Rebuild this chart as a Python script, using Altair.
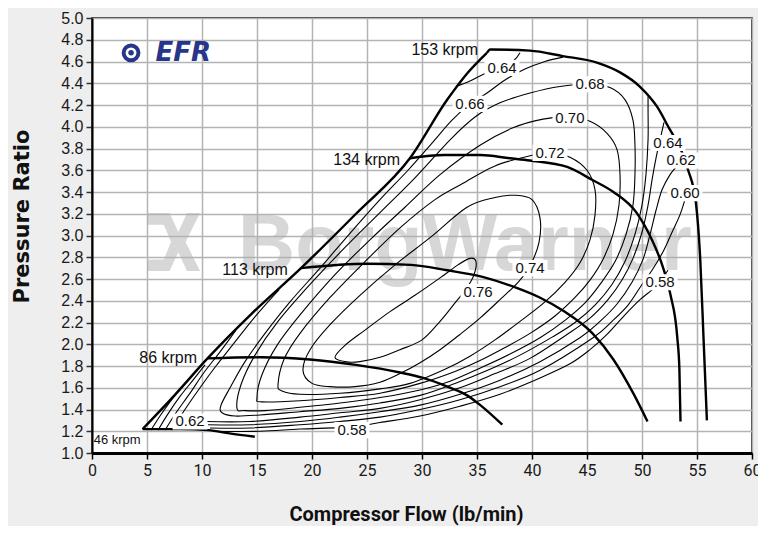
import altair as alt
import pandas as pd

# ---------------- data ----------------
x_ticks = [0, 5, 10, 15, 20, 25, 30, 35, 40, 45, 50, 55, 60]
y_ticks = [1.0, 1.2, 1.4, 1.6, 1.8, 2.0, 2.2, 2.4, 2.6, 2.8, 3.0,
           3.2, 3.4, 3.6, 3.8, 4.0, 4.2, 4.4, 4.6, 4.8, 5.0]

surge_x = [4.6, 7.5, 10.5, 14.5, 19.0, 24.0, 28.9, 32.3, 34.1, 35.9]
surge_y = [1.22, 1.53, 1.87, 2.28, 2.70, 3.20, 3.71, 4.25, 4.49, 4.68]

spd46_x = [4.6, 8.0, 10.6, 12.5, 14.8]
spd46_y = [1.22, 1.22, 1.21, 1.18, 1.15]
spd86_x = [10.5, 15.3, 19.8, 24.0, 28.0, 30.1, 32.3, 34.1, 35.3, 37.3]
spd86_y = [1.87, 1.88, 1.86, 1.81, 1.74, 1.69, 1.61, 1.53, 1.44, 1.26]
spd113_x = [19.0, 25.0, 29.0, 32.3, 35.5, 38.3, 40.7, 42.8, 45.5, 47.4, 49.2, 50.5]
spd113_y = [2.70, 2.74, 2.73, 2.68, 2.62, 2.53, 2.43, 2.31, 2.10, 1.86, 1.55, 1.29]
spd134_x = [28.9, 32.0, 35.3, 38.0, 39.8, 43.2, 45.5, 47.4, 49.5, 50.9, 51.9, 52.6, 53.2, 53.4, 53.5]
spd134_y = [3.71, 3.74, 3.74, 3.71, 3.69, 3.63, 3.51, 3.40, 3.21, 2.96, 2.71, 2.45, 2.07, 1.77, 1.29]
spd153_x = [35.9, 36.2, 39.8, 42.8, 45.9, 48.0, 49.8, 51.4, 52.5, 53.5, 54.2, 54.9, 55.3, 55.6, 55.9]
spd153_y = [4.68, 4.71, 4.70, 4.65, 4.59, 4.50, 4.37, 4.18, 3.98, 3.80, 3.60, 3.30, 2.77, 2.04, 1.30]

# closed efficiency islands
c076_x = [22.09, 23.0, 24.82, 27.09, 29.36, 31.64, 33.27, 34.36, 34.91, 34.73, 34.09, 33.0, 31.64, 30.0, 28.0, 26.18, 24.36, 23.0]
c076_y = [1.88, 1.99, 2.13, 2.30, 2.45, 2.61, 2.73, 2.79, 2.76, 2.64, 2.52, 2.38, 2.21, 2.04, 1.95, 1.88, 1.84, 1.84]
c074_x = [19.18, 19.82, 21.64, 24.36, 27.55, 30.73, 34.09, 36.64, 38.45, 40.0, 40.73, 40.64, 39.82, 38.73, 37.09, 35.27, 33.45, 31.64, 29.82, 28.0, 26.18, 23.91, 21.64, 20.0]
c074_y = [1.76, 1.95, 2.18, 2.45, 2.73, 2.98, 3.26, 3.35, 3.37, 3.33, 3.16, 2.94, 2.72, 2.57, 2.41, 2.24, 2.09, 1.95, 1.83, 1.73, 1.65, 1.61, 1.61, 1.64]
c072_x = [16.91, 17.45, 18.91, 21.64, 24.82, 28.0, 31.18, 33.73, 36.64, 40.09, 41.64, 43.45, 45.0, 45.73, 45.73, 45.27, 44.36, 43.0, 41.18, 38.91, 36.64, 34.36, 32.09, 28.91, 26.18, 22.55, 18.91, 17.27]
c072_y = [1.63, 1.86, 2.10, 2.43, 2.76, 3.07, 3.33, 3.48, 3.64, 3.74, 3.76, 3.72, 3.60, 3.42, 3.19, 2.96, 2.75, 2.57, 2.39, 2.21, 2.04, 1.89, 1.77, 1.64, 1.59, 1.55, 1.54, 1.57]
c070_x = [15.0, 15.45, 16.82, 18.91, 22.09, 25.27, 28.45, 31.64, 35.27, 38.27, 41.0, 43.45, 45.27, 46.82, 47.73, 48.0, 47.91, 47.36, 46.45, 45.27, 43.91, 42.09, 39.82, 37.55, 35.27, 33.0, 29.82, 26.18, 22.55, 18.91, 15.45]
c070_y = [1.51, 1.72, 1.99, 2.27, 2.64, 2.96, 3.26, 3.56, 3.83, 3.99, 4.07, 4.09, 4.05, 3.94, 3.79, 3.56, 3.28, 3.01, 2.78, 2.59, 2.43, 2.26, 2.10, 1.97, 1.85, 1.75, 1.64, 1.55, 1.51, 1.48, 1.47]
c068_x = [13.18, 13.55, 14.82, 16.91, 19.82, 23.0, 26.18, 29.36, 32.55, 34.82, 37.09, 39.82, 42.55, 45.27, 47.09, 48.45, 49.18, 49.36, 49.36, 49.18, 48.55, 47.55, 46.18, 44.82, 43.0, 40.73, 38.0, 35.27, 32.55, 29.82, 26.18, 22.55, 18.91, 15.73, 13.91]
c068_y = [1.41, 1.63, 1.90, 2.21, 2.55, 2.89, 3.21, 3.53, 3.88, 4.09, 4.22, 4.31, 4.37, 4.39, 4.36, 4.25, 4.06, 3.83, 3.56, 3.28, 3.01, 2.76, 2.55, 2.38, 2.22, 2.06, 1.91, 1.78, 1.66, 1.58, 1.51, 1.46, 1.42, 1.39, 1.39]

# open efficiency contours (ending on the map boundary)
c066_x = [42.82, 41.18, 39.36, 37.55, 35.91, 34.36, 32.73, 30.91, 28.73, 26.18, 23.45, 20.73, 18.0, 15.73, 13.91, 12.55, 11.73, 11.82, 13.0, 15.27, 18.91, 22.55, 26.18, 29.82, 33.0, 36.18, 38.91, 41.91, 43.91, 45.73, 47.27, 48.45, 49.36, 50.0, 50.36, 50.55, 50.55, 50.55]
c066_y = [4.64, 4.60, 4.53, 4.43, 4.31, 4.21, 4.06, 3.85, 3.60, 3.33, 3.02, 2.70, 2.39, 2.10, 1.84, 1.60, 1.44, 1.37, 1.34, 1.35, 1.38, 1.41, 1.46, 1.53, 1.64, 1.77, 1.90, 2.07, 2.20, 2.36, 2.55, 2.76, 3.01, 3.28, 3.56, 3.88, 4.15, 4.28]
c064a_x = [33.09, 34.36, 35.73, 37.27, 38.36, 38.91]
c064a_y = [4.37, 4.42, 4.49, 4.54, 4.61, 4.68]
c064b_x = [10.36, 14.36, 18.91, 22.55, 26.18, 29.82, 33.45, 36.64, 39.82, 43.18, 45.27, 46.91, 48.18, 49.18, 50.0, 50.55, 50.91, 51.27, 51.64, 52.0]
c064b_y = [1.29, 1.29, 1.33, 1.37, 1.41, 1.49, 1.60, 1.73, 1.87, 2.09, 2.24, 2.41, 2.59, 2.79, 3.03, 3.28, 3.51, 3.71, 3.88, 4.04]
c064c_x = [7.27, 8.45, 9.82, 11.27, 12.91, 14.55, 16.0, 17.0]
c064c_y = [1.21, 1.40, 1.60, 1.80, 2.01, 2.22, 2.39, 2.50]
c062b_x = [10.55, 14.36, 18.91, 22.55, 26.18, 29.82, 33.45, 37.09, 40.73, 44.36, 46.18, 47.73, 49.09, 50.09, 50.73, 51.27, 51.82, 52.55, 53.27, 53.64]
c062b_y = [1.26, 1.26, 1.29, 1.33, 1.38, 1.44, 1.54, 1.67, 1.84, 2.06, 2.21, 2.37, 2.57, 2.78, 3.01, 3.23, 3.42, 3.56, 3.65, 3.71]
c062c_x = [6.64, 7.64, 8.91, 10.18, 11.64, 13.09]
c062c_y = [1.21, 1.37, 1.55, 1.74, 1.93, 2.13]
c060b_x = [10.73, 14.36, 18.91, 22.55, 26.18, 29.82, 33.45, 37.09, 40.73, 45.55, 47.27, 48.73, 50.0, 50.91, 51.91, 52.73, 53.45, 53.91, 54.27]
c060b_y = [1.23, 1.23, 1.26, 1.29, 1.33, 1.40, 1.49, 1.61, 1.76, 2.06, 2.21, 2.36, 2.55, 2.68, 2.85, 3.03, 3.19, 3.33, 3.44]
c060c_x = [6.0, 6.91, 8.0, 9.18, 10.27]
c060c_y = [1.21, 1.36, 1.52, 1.67, 1.81]
c058b_x = [11.0, 15.27, 18.91, 23.64, 26.18, 29.82, 33.45, 37.09, 40.73, 43.45, 45.27, 46.82, 48.45, 49.82, 50.91, 51.64, 52.36]
c058b_y = [1.20, 1.20, 1.22, 1.24, 1.28, 1.34, 1.43, 1.54, 1.69, 1.82, 1.95, 2.09, 2.27, 2.41, 2.50, 2.58, 2.68]
c058c_x = [5.36, 6.18, 7.09, 8.0]
c058c_y = [1.21, 1.34, 1.47, 1.59]

# efficiency labels
eff_text = ["0.64", "0.66", "0.68", "0.70", "0.72", "0.74", "0.76",
            "0.64", "0.62", "0.60", "0.58", "0.62", "0.58"]
eff_x = [37.27, 34.36, 45.27, 43.45, 41.64, 39.82, 35.09, 52.36, 53.55, 53.91, 51.64, 8.91, 23.64]
eff_y = [4.54, 4.21, 4.39, 4.08, 3.76, 2.70, 2.48, 3.85, 3.69, 3.39, 2.57, 1.29, 1.21]

# speed labels (right-aligned)
spd_text = ["153 krpm", "134 krpm", "113 krpm", "86 krpm"]
spd_lx = [35.1, 28.0, 17.8, 9.55]
spd_ly = [4.71, 3.69, 2.68, 1.87]
low_text = ["46 krpm"]
low_x = [0.15]
low_y = [1.12]

# watermark / logos
wm_text = ["BorgWarner"]
wm_x = [33.9]
wm_y = [2.68]
emb_x = [7.45]
emb_y = [2.94]
efr_text = ["EFR"]
efr_x = [8.3]
efr_y = [4.68]
swirl_x = [3.55]
swirl_y = [4.68]

# ---------------- helpers ----------------
def frame(named):
    rows = []
    for k, (xs, ys) in named.items():
        for i, (a, b) in enumerate(zip(xs, ys)):
            rows.append({"id": k, "i": i, "x": a, "y": b})
    return pd.DataFrame(rows)

NARROW = "Liberation Sans Narrow, Roboto, Liberation Sans, sans-serif"

x_axis = alt.Axis(values=x_ticks, title="Compressor Flow (lb/min)", grid=True,
                  gridColor="#b4b4b4", gridWidth=1.5, domainColor="#000", domainWidth=3,
                  tickColor="#000", tickSize=6, tickWidth=1.5, labelFlush=False,
                  labelFont=NARROW, labelFontSize=16, labelColor="#1a1a1a",
                  labelPadding=3, labelAngle=0,
                  titleFont="Roboto, Liberation Sans, sans-serif", titleFontSize=20,
                  titleFontWeight="bold", titleColor="#111",
                  titleX=314, titleY=61, titleAlign="center", titleBaseline="middle")
y_axis = alt.Axis(values=y_ticks, format=".1f", title="Pressure Ratio", grid=True,
                  gridColor="#b4b4b4", gridWidth=1.5, domainColor="#000", domainWidth=2,
                  tickColor="#333", tickSize=6, tickWidth=1.5, labelFlush=False,
                  labelFont="Liberation Sans, sans-serif", labelFontSize=16, labelColor="#1a1a1a",
                  labelPadding=3,
                  titleFont="DejaVu Sans, sans-serif", titleFontSize=21, titleFontWeight="bold",
                  titleColor="#111",
                  titleX=-70, titleY=198, titleAngle=270, titleAlign="center", titleBaseline="middle")

X = alt.X("x:Q", scale=alt.Scale(domain=[0, 60], nice=False, zero=False), axis=x_axis)
Y = alt.Y("y:Q", scale=alt.Scale(domain=[1, 5], nice=False, zero=False), axis=y_axis)

# ---------------- layers ----------------
wm = alt.Chart(pd.DataFrame({"x": wm_x, "y": wm_y, "t": wm_text})).mark_text(
    font="Liberation Sans, sans-serif", fontWeight="bold", fontSize=79, color="#b0b0b0", opacity=0.5,
    align="center", baseline="alphabetic").encode(x=X, y=Y, text="t:N")
emblem = alt.Chart(pd.DataFrame({"x": emb_x, "y": emb_y})).mark_point(
    shape=("M-0.9,-1 L-0.15,-1 L0.15,-0.35 L0.45,-1 L0.9,-1 L0.4,0 L0.9,1 L0.45,1 "
           "L0.15,0.35 L-0.15,1 L-0.9,1 L-0.9,0.6 L-0.35,0.6 L-0.1,0 L-0.35,-0.6 L-0.9,-0.6 Z"),
    filled=True, color="#b0b0b0", opacity=0.5, size=3364, strokeWidth=0).encode(x=X, y=Y)

closed_df = frame({"c076": (c076_x, c076_y), "c074": (c074_x, c074_y), "c072": (c072_x, c072_y),
                   "c070": (c070_x, c070_y), "c068": (c068_x, c068_y)})
open_df = frame({"c066": (c066_x, c066_y), "c064a": (c064a_x, c064a_y), "c064b": (c064b_x, c064b_y),
                 "c064c": (c064c_x, c064c_y), "c062b": (c062b_x, c062b_y), "c062c": (c062c_x, c062c_y),
                 "c060b": (c060b_x, c060b_y), "c060c": (c060c_x, c060c_y), "c058b": (c058b_x, c058b_y),
                 "c058c": (c058c_x, c058c_y)})
speed_df = frame({"surge": (surge_x, surge_y), "s46": (spd46_x, spd46_y), "s86": (spd86_x, spd86_y),
                  "s113": (spd113_x, spd113_y), "s134": (spd134_x, spd134_y), "s153": (spd153_x, spd153_y)})

closed_l = alt.Chart(closed_df).mark_line(interpolate="cardinal-closed", color="#000", strokeWidth=1.1).encode(
    x=X, y=Y, detail="id:N", order="i:Q")
open_l = alt.Chart(open_df).mark_line(interpolate="cardinal", color="#000", strokeWidth=1.1).encode(
    x=X, y=Y, detail="id:N", order="i:Q")
speed_l = alt.Chart(speed_df).mark_line(interpolate="monotone", color="#000", strokeWidth=2.4).encode(
    x=X, y=Y, detail="id:N", order="i:Q")

eff_df = pd.DataFrame({"x": eff_x, "y": eff_y, "t": eff_text})
boxes = alt.Chart(eff_df).mark_point(shape="M-1,-0.46L1,-0.46L1,0.46L-1,0.46Z", filled=True,
                                     color="white", opacity=1, size=1225, strokeWidth=0).encode(x=X, y=Y)
eff_lab = alt.Chart(eff_df).mark_text(font="Liberation Sans, sans-serif", fontSize=15, color="#111",
                                      align="center", baseline="middle").encode(x=X, y=Y, text="t:N")

spd_df = pd.DataFrame({"x": spd_lx, "y": spd_ly, "t": spd_text})
spd_lab = alt.Chart(spd_df).mark_text(font="Liberation Sans, sans-serif", fontSize=16, color="#111",
                                      align="right", baseline="middle").encode(x=X, y=Y, text="t:N")
low_df = pd.DataFrame({"x": low_x, "y": low_y, "t": low_text})
low_lab = alt.Chart(low_df).mark_text(font="Liberation Sans, sans-serif", fontSize=13, color="#111",
                                      align="left", baseline="middle").encode(x=X, y=Y, text="t:N")

efr = alt.Chart(pd.DataFrame({"x": efr_x, "y": efr_y, "t": efr_text})).mark_text(
    font="DejaVu Sans, sans-serif", fontWeight="bold", fontStyle="italic", fontSize=26, color="#27358a",
    align="center", baseline="middle").encode(x=X, y=Y, text="t:N")
swirl_df = pd.DataFrame({"x": swirl_x, "y": swirl_y})
swirl = alt.Chart(swirl_df).mark_point(shape="circle", filled=False, color="#27358a",
                                       strokeWidth=4, size=220, opacity=1).encode(x=X, y=Y)
swirl2 = alt.Chart(swirl_df).mark_point(shape="circle", filled=True, color="#27358a",
                                        size=30, opacity=1).encode(x=X, y=Y)

chart = alt.layer(wm, emblem, closed_l, open_l, speed_l, boxes, eff_lab, spd_lab, low_lab,
                  efr, swirl, swirl2).properties(
    width=660, height=435,
    padding={"left": 84, "top": 10, "right": 6, "bottom": 73},
    autosize=alt.AutoSizeParams(type="none"),
    background="#eeeeee",
).configure_view(stroke="#000", strokeWidth=1.5, fill="white")

chart.save("out.html", embed_options={"renderer": "svg", "actions": False})
